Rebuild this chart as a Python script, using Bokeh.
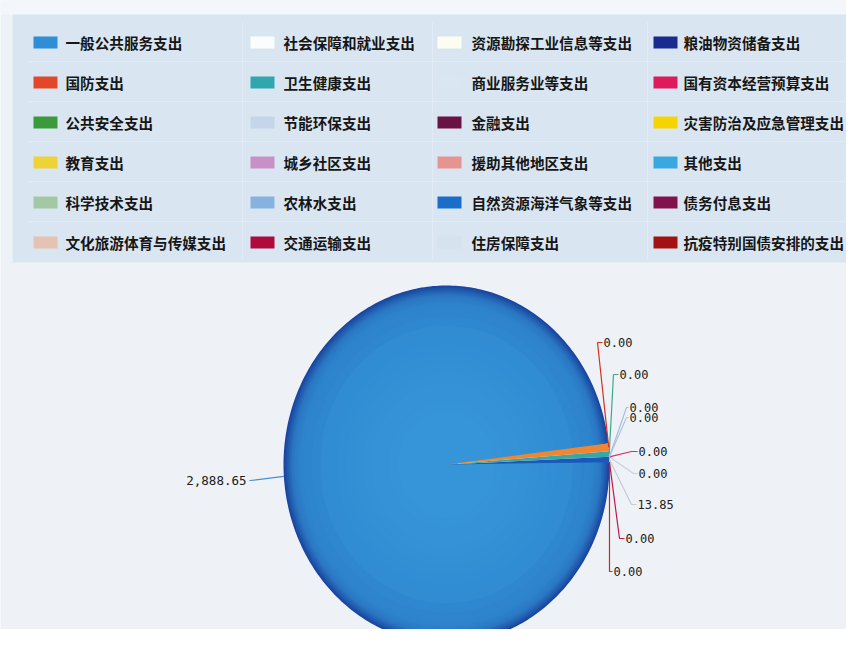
import numpy as np
from bokeh.plotting import figure
from bokeh.models import Range1d
from bokeh.embed import file_html
from bokeh.resources import INLINE
from bokeh.core.properties import value

# ---------------- data ----------------
categories = [
    "一般公共服务支出", "社会保障和就业支出", "资源勘探工业信息等支出", "粮油物资储备支出",
    "国防支出", "卫生健康支出", "商业服务业等支出", "国有资本经营预算支出",
    "公共安全支出", "节能环保支出", "金融支出", "灾害防治及应急管理支出",
    "教育支出", "城乡社区支出", "援助其他地区支出", "其他支出",
    "科学技术支出", "农林水支出", "自然资源海洋气象等支出", "债务付息支出",
    "文化旅游体育与传媒支出", "交通运输支出", "住房保障支出", "抗疫特别国债安排的支出",
]
colors = [
    "#2f8ed6", "#fbfcfe", "#fcfdf2", "#1b2a8e",
    "#e4462a", "#30a6ae", "#dae6f2", "#dc1a5c",
    "#3a9a3c", "#c6d6ea", "#6a1244", "#f6d400",
    "#eed236", "#c890c6", "#e69490", "#3aa8e0",
    "#a2c8a4", "#86b2e0", "#1a6ec8", "#82124e",
    "#e6c2b2", "#b00a3c", "#d6e2ee", "#a21212",
]
# slice sizes (the small wedges are estimated)
values = [2888.65, 0, 0, 0, 21.0, 14.5, 0, 0, 0, 0, 0, 0,
          0, 0, 0, 0, 0, 0, 13.85, 0, 0, 0, 0, 0]
# order of slices counter-clockwise from the start angle
pie_order = [23, 21, 18, 22, 7, 1, 9, 5, 4, 0]
# printed labels of the labelled slices (same order as pie_order)
label_text = ["0.00", "0.00", "13.85", "0.00", "0.00", "0.00", "0.00", "0.00", "0.00", "2,888.65"]

# ---------------- style / layout ----------------
W, H = 846, 629
CX, CY, RX, RY = 446, 464, 163, 179
START = np.deg2rad(0.75)
wedge_color = {4: "#ee8632", 5: "#38a8a6", 18: "#1a58bc"}
# radial shading of the large slice: (scale, rgb)
shade_stops = [(1.0, (26, 70, 160)), (0.975, (34, 96, 178)), (0.95, (42, 118, 194)),
               (0.9, (46, 132, 204)), (0.75, (49, 141, 211)), (0.3, (54, 148, 216))]
# label layout: (text x, text y, elbow x, align, leader colour)
label_layout = [
    (613, 571, 609, "left", "#c8281e"),
    (625, 538, 619, "left", "#c01848"),
    (637, 504, 631, "left", "#c4ccd6"),
    (638, 473, 633, "left", "#c8d0da"),
    (638, 451, 631, "left", "#d8306a"),
    (629, 417, 626, "left", "#b0c4dc"),
    (629, 407, 626, "left", "#a8bedc"),
    (619, 374, 613, "left", "#3ea88c"),
    (603, 342, 597, "left", "#d4301e"),
    (246, 480, 250, "right", "#4a8ed0"),
]

p = figure(width=W, height=H, x_range=Range1d(0, W), y_range=Range1d(H, 0),
           output_backend="svg", toolbar_location=None, min_border=0)
p.axis.visible = False
p.grid.visible = False
p.outline_line_color = None
p.background_fill_color = "#eef2f7"
p.border_fill_color = "#eef2f7"

# top band and legend panel
p.quad(left=[0], right=[W], top=[0], bottom=[14], fill_color="#f3f6fa", line_color=None)
p.quad(left=[12], right=[W], top=[14], bottom=[262], fill_color="#d9e6f2", line_color=None)
for yy in [61, 101, 141, 181, 221]:
    p.line([28, W], [yy, yy], line_color="#e3ecf6", line_width=1)
for xx in [242, 432, 647]:
    p.line([xx, xx], [22, 258], line_color="#e3ecf6", line_width=1)

# legend
sw_x = [33, 250, 437, 653]
tx_x = [65, 283, 471, 683]
lx0, lx1, ly, lt, lcol = [], [], [], [], []
for i, c in enumerate(categories):
    r, k = divmod(i, 4)
    y = 42 + r * 40
    lx0.append(sw_x[k]); lx1.append(sw_x[k] + 24); ly.append(y); lcol.append(colors[i])
    lt.append(c)
p.quad(left=lx0, right=lx1, top=[y - 6 for y in ly], bottom=[y + 6 for y in ly],
       fill_color=lcol, line_color=None)
p.text(x=[tx_x[i % 4] for i in range(len(categories))], y=ly, text=lt,
       text_font=value("Noto Sans CJK SC"), text_font_size="14.6px", text_font_style="bold",
       text_color="#161616", text_baseline="middle", text_align="left")

# pie
total = sum(values[i] for i in pie_order)
angles = {}
a = START
for i in pie_order:
    a1 = a + values[i] / total * 2 * np.pi
    angles[i] = (a, a1)
    a = a1


def wedge_xy(a0, a1, s=1.0):
    n = max(2, int(np.ceil((a1 - a0) / np.deg2rad(1.0))) + 1)
    t = np.linspace(a0, a1, n)
    xs = np.concatenate([[CX], CX + RX * s * np.cos(t)])
    ys = np.concatenate([[CY], CY - RY * s * np.sin(t)])
    return list(xs), list(ys)


def shade(s):
    ss = [q[0] for q in shade_stops][::-1]
    cs = np.array([q[1] for q in shade_stops][::-1], dtype=float)
    rgb = [int(round(np.interp(s, ss, cs[:, j]))) for j in range(3)]
    return "#%02x%02x%02x" % tuple(rgb)


main = pie_order[-1]
for s in np.concatenate([np.linspace(1.0, 0.9, 11), np.linspace(0.88, 0.3, 12)]):
    xs, ys = wedge_xy(*angles[main], s)
    p.patch(xs, ys, fill_color=shade(s), line_color=None)
for i in pie_order[:-1]:
    a0, a1 = angles[i]
    if a1 - a0 > 0:
        xs, ys = wedge_xy(a0, a1)
        p.patch(xs, ys, fill_color=wedge_color.get(i, colors[i]), line_color=None)

# labels with leader lines
for i, txt, (tx, ty, ex, al, lc) in zip(pie_order, label_text, label_layout):
    a0, a1 = angles[i]
    m = (a0 + a1) / 2
    px, py = CX + RX * np.cos(m), CY - RY * np.sin(m)
    endx = tx - 1 if al == "left" else tx + 3
    p.line([px, ex, endx], [py, ty, ty], line_color=lc, line_width=1.2)
    p.text(x=[tx], y=[ty], text=[txt], text_font=value("DejaVu Sans Mono"),
           text_font_size="12px" if al == "left" else "12.5px", text_color="#202020",
           text_baseline="middle", text_align=al)

open("out.html", "w").write(file_html(p, INLINE))
